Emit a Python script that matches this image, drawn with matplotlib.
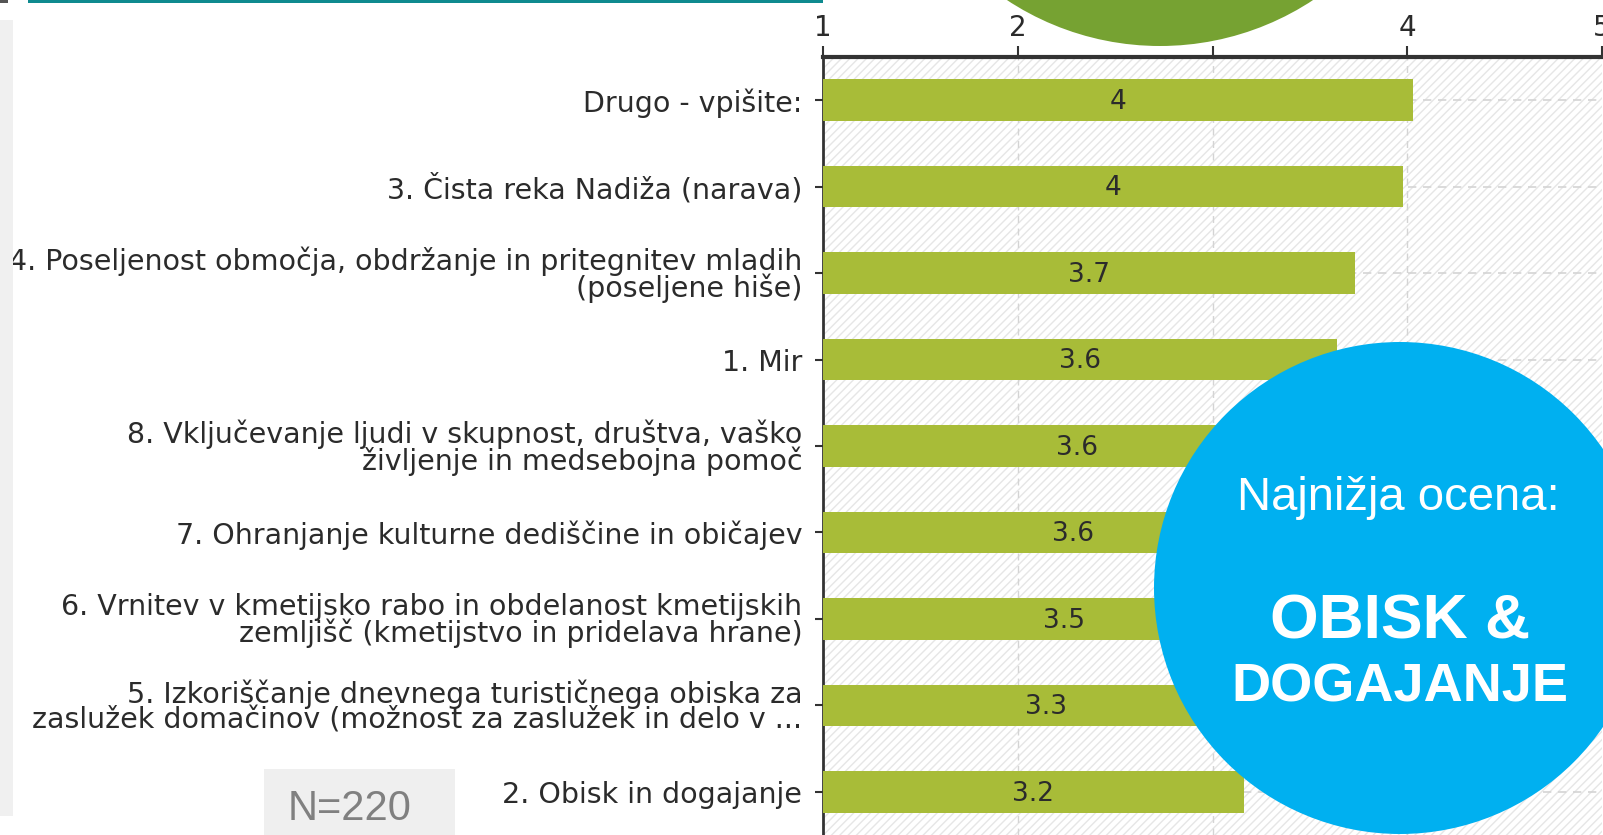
import numpy as np
import matplotlib
matplotlib.use("Agg")
import matplotlib.pyplot as plt
from matplotlib.patches import Rectangle, Circle

# podatki
categories = [
    "Drugo - vpišite:",
    "3. Čista reka Nadiža (narava)",
    "4. Poseljenost območja, obdržanje in pritegnitev mladih\n(poseljene hiše)",
    "1. Mir",
    "8. Vključevanje ljudi v skupnost, društva, vaško\nživljenje in medsebojna pomoč",
    "7. Ohranjanje kulturne dediščine in običajev",
    "6. Vrnitev v kmetijsko rabo in obdelanost kmetijskih\nzemljišč (kmetijstvo in pridelava hrane)",
    "5. Izkoriščanje dnevnega turističnega obiska za\nzaslužek domačinov (možnost za zaslužek in delo v ...",
    "2. Obisk in dogajanje",
]
values = [4.03, 3.98, 3.73, 3.64, 3.61, 3.57, 3.48, 3.29, 3.16]
x_ticks = [1, 2, 3, 4, 5]
n_label = "N=220"
circle_title = "Najnižja ocena:"
circle_line1 = "OBISK &"
circle_line2 = "DOGAJANJE"

W, H = 1603, 835
fig = plt.figure(figsize=(W / 100, H / 100), dpi=100)
fig.patch.set_facecolor("white")

bar_color = "#A8BC38"
text_color = "#2b2b2b"
plt.rcParams["hatch.linewidth"] = 1.0

ax = fig.add_axes([823 / W, 0.0, (1602 - 823) / W, 1 - 57 / H])
ax.set_xlim(1, 5)
ax.set_ylim(len(values) - 0.5, -0.5)
ax.set_facecolor("white")

# sivo črtkano ozadje
bg = Rectangle((0, 0), 1, 1, transform=ax.transAxes, facecolor="white",
               edgecolor="#e6e6e6", hatch="////", linewidth=0, zorder=0)
ax.add_patch(bg)

y = np.arange(len(values))
for xt in x_ticks[1:-1]:
    ax.axvline(xt, color="#d4d4d4", linestyle=(0, (5, 4)), linewidth=1, zorder=1)
for yi in y:
    ax.axhline(yi, color="#d4d4d4", linestyle=(0, (5, 4)), linewidth=1.2, zorder=1)

ax.barh(y, [v - 1 for v in values], left=1, height=0.48, color=bar_color,
        edgecolor="none", zorder=3)
for yi, v in zip(y, values):
    lab = f"{v:.1f}".rstrip("0").rstrip(".")
    ax.text((1 + v) / 2, yi + 0.02, lab, ha="center", va="center", fontsize=19,
            color=text_color, zorder=4)

ax.set_yticks(y)
ax.set_yticklabels(categories, fontsize=20.5, color=text_color, linespacing=0.9)
ax.xaxis.tick_top()
ax.set_xticks(x_ticks)
ax.set_xticklabels([str(t) for t in x_ticks], fontsize=20, color=text_color)
ax.tick_params(axis="x", direction="out", length=8, width=1.5, color="#333333", pad=3)
ax.tick_params(axis="y", direction="out", length=6, width=1.5, color="#333333", pad=9)
for s in ["right", "bottom"]:
    ax.spines[s].set_visible(False)
ax.spines["top"].set_linewidth(3)
ax.spines["top"].set_color("#333333")
ax.spines["left"].set_linewidth(2)
ax.spines["left"].set_color("#333333")
ax.spines["left"].set_zorder(2)

# prekrivni elementi v pikslih slike
ov = fig.add_axes([0, 0, 1, 1], zorder=10)
ov.set_xlim(0, W)
ov.set_ylim(H, 0)
ov.axis("off")
ov.patch.set_alpha(0)

ov.add_patch(Rectangle((0, 20), 13, 796, facecolor="#f0f0f0", edgecolor="none"))
ov.add_patch(Rectangle((0, 0), 8, 3, facecolor="#555555", edgecolor="none"))
ov.add_patch(Rectangle((28, 0), 795, 3, facecolor="#0E8A8F", edgecolor="none"))

ov.add_patch(Circle((1160, -232), 278, facecolor="#76A232", edgecolor="none"))
ov.add_patch(Circle((1400, 588), 246, facecolor="#00B0F0", edgecolor="none"))
ov.text(1398, 498, circle_title, ha="center", va="center", fontsize=34,
        color="white", family="Liberation Sans")
ov.text(1400, 622, circle_line1, ha="center", va="center", fontsize=45,
        color="white", family="Liberation Sans", fontweight="bold")
ov.text(1400, 687, circle_line2, ha="center", va="center", fontsize=39,
        color="white", family="Liberation Sans", fontweight="bold")

ov.add_patch(Rectangle((264, 769), 191, 70, facecolor="#efefef", edgecolor="none"))
ov.text(350, 809, n_label, ha="center", va="center", fontsize=30,
        color="#808080", family="Liberation Sans")

fig.savefig("out.png", dpi=100)
